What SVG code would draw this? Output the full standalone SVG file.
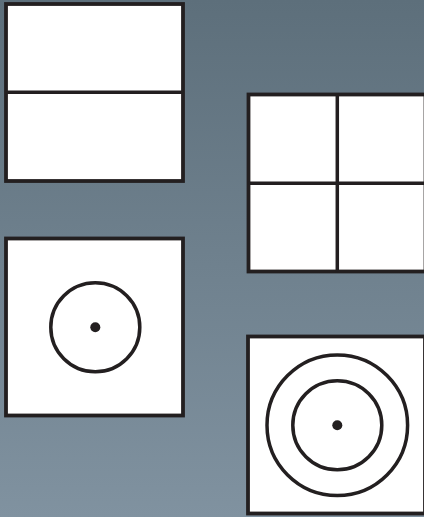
<svg xmlns="http://www.w3.org/2000/svg" width="424" height="517" viewBox="0 0 424 517">
<defs>
<linearGradient id="bg" x1="0" y1="0" x2="0" y2="1">
<stop offset="0" stop-color="#5d6f7b"/>
<stop offset="1" stop-color="#8092a0"/>
</linearGradient>
<style>
.box{fill:#fff;stroke:#231f20;stroke-width:3.8}
.ln{stroke:#231f20;stroke-width:3.5;fill:none}
.dot{fill:#231f20}
</style>
</defs>
<rect x="0" y="0" width="424" height="517" fill="url(#bg)"/>
<g id="node-halves">
<rect class="box" x="6" y="4" width="177" height="177"/>
<line class="ln" x1="6" y1="92.3" x2="183" y2="92.3"/>
</g>
<g id="node-quarters">
<rect class="box" x="248.5" y="94.5" width="177" height="177"/>
<line class="ln" x1="337.3" y1="94.5" x2="337.3" y2="271.5"/>
<line class="ln" x1="248.5" y1="183.3" x2="425.5" y2="183.3"/>
</g>
<g id="node-circle">
<rect class="box" x="6" y="238.5" width="177" height="177"/>
<circle class="ln" cx="95.3" cy="327.3" r="44.5"/>
<circle class="dot" cx="95.3" cy="327.3" r="5"/>
</g>
<g id="node-rings">
<rect class="box" x="248" y="336.5" width="177" height="177"/>
<circle class="ln" cx="337.3" cy="425.3" r="70.3"/>
<circle class="ln" cx="337.3" cy="425.3" r="44.5"/>
<circle class="dot" cx="337.3" cy="425.3" r="5"/>
</g>
<g id="connectors"></g>
</svg>
